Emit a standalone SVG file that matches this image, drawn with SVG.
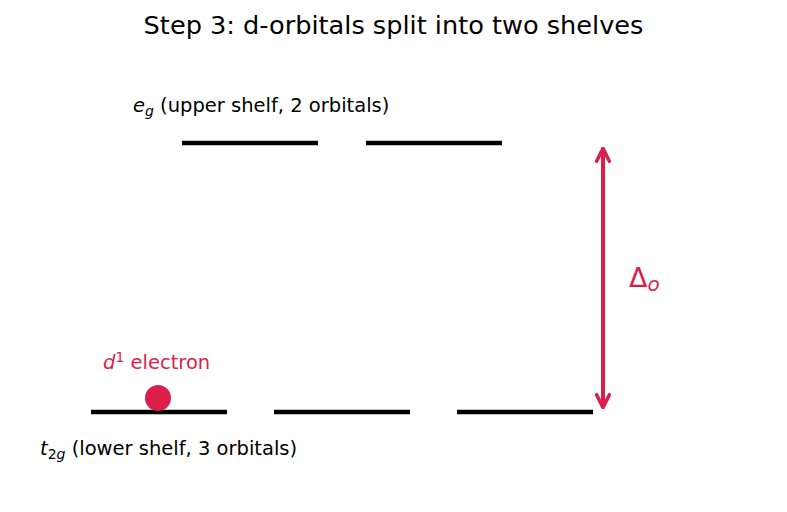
<svg xmlns="http://www.w3.org/2000/svg" width="787" height="512" viewBox="0 0 787 512">
<style>
text{font-family:"DejaVu Sans",sans-serif;}
.lvl{stroke:#000;stroke-width:4.5;stroke-linecap:butt;}
.lbl{font-size:19.5px;fill:#000;}
.red{fill:#DC1E4B;}
</style>
<defs>
<marker id="ah" viewBox="0 0 10 10" refX="8" refY="5" markerWidth="4" markerHeight="4" orient="auto-start-reverse" markerUnits="strokeWidth">
<path d="M1,1 L9,5 L1,9" fill="none" stroke="#DC1E4B" stroke-width="2.2" stroke-linecap="round" stroke-linejoin="round"/>
</marker>
</defs>
<rect width="787" height="512" fill="#fff"/>
<text x="393.5" y="34" font-size="25.6" text-anchor="middle">Step 3: d-orbitals split into two shelves</text>
<g id="eg">
<line class="lvl" x1="182" y1="143" x2="318" y2="143"/>
<line class="lvl" x1="366" y1="143" x2="502" y2="143"/>
<text class="lbl" x="133" y="112"><tspan font-style="italic">e</tspan><tspan font-style="italic" font-size="14" dy="4">g</tspan><tspan dy="-4"> (upper shelf, 2 orbitals)</tspan></text>
</g>
<g id="t2g">
<line class="lvl" x1="91" y1="412" x2="227" y2="412"/>
<line class="lvl" x1="274" y1="412" x2="410" y2="412"/>
<line class="lvl" x1="457" y1="412" x2="593" y2="412"/>
<text class="lbl" x="40" y="455"><tspan font-style="italic">t</tspan><tspan font-size="14" dy="4">2</tspan><tspan font-style="italic" font-size="14">g</tspan><tspan dy="-4"> (lower shelf, 3 orbitals)</tspan></text>
</g>
<g id="electron">
<circle cx="158" cy="398" r="13" class="red"/>
<text class="lbl red" x="103" y="369"><tspan font-style="italic">d</tspan><tspan font-size="14" dy="-7">1</tspan><tspan dy="7"> electron</tspan></text>
</g>
<g id="connectors">
<line x1="603" y1="150" x2="603" y2="406" stroke="#DC1E4B" stroke-width="4" marker-start="url(#ah)" marker-end="url(#ah)"/>
</g>
<g id="delta">
<text class="red" x="629" y="287" font-size="27">Δ<tspan font-style="italic" font-size="20" dy="4">o</tspan></text>
</g>
</svg>
